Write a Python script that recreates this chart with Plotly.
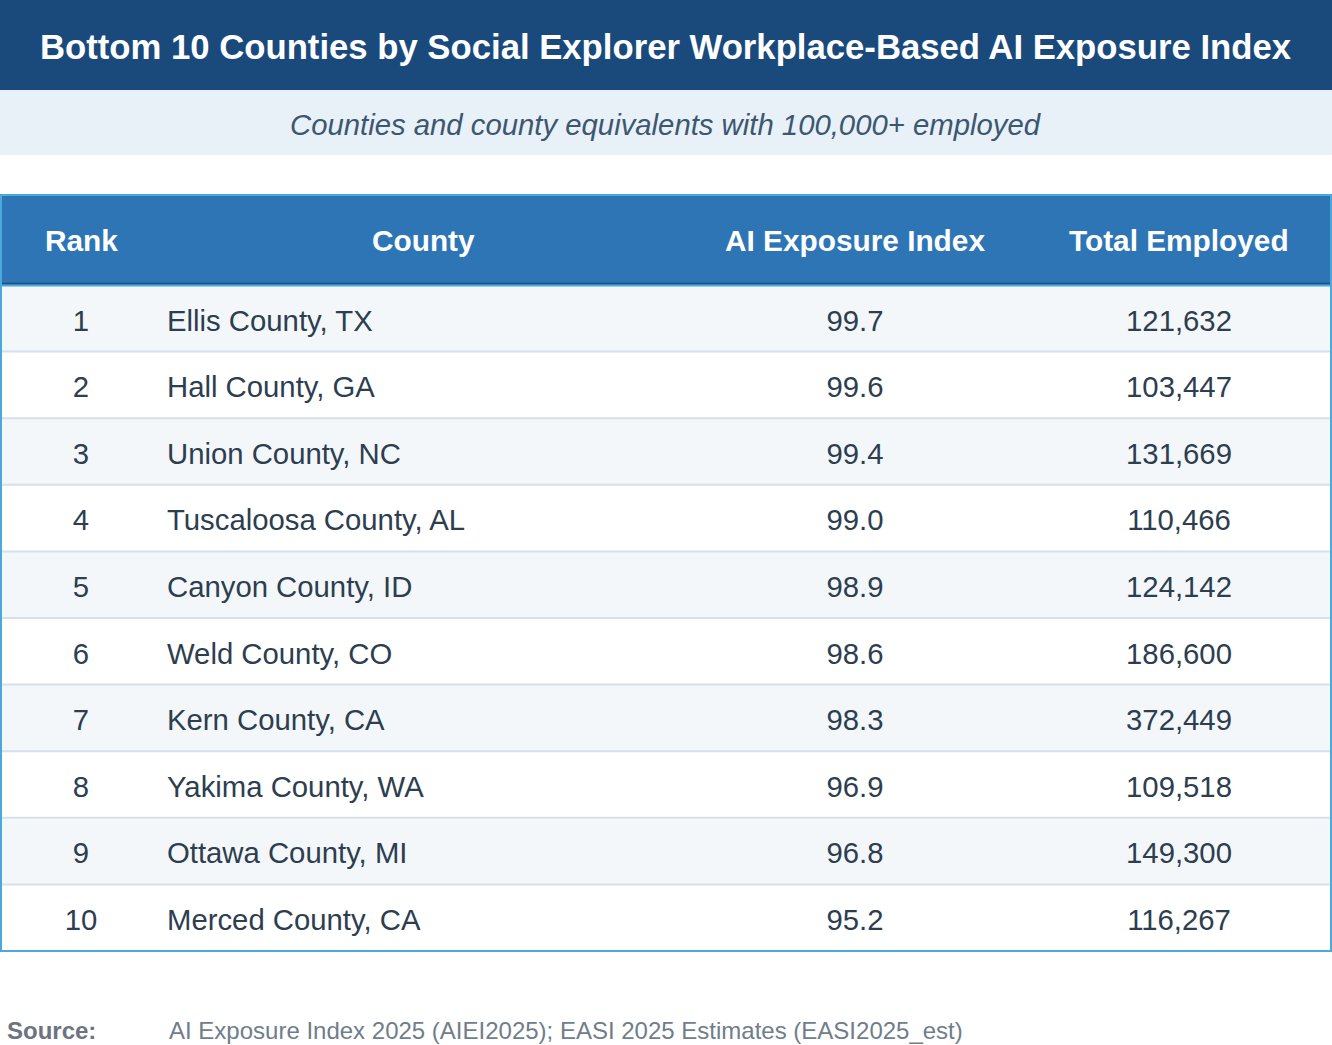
import plotly.graph_objects as go

# ---------------- data ----------------
ranks = [1, 2, 3, 4, 5, 6, 7, 8, 9, 10]
counties = [
    "Ellis County, TX", "Hall County, GA", "Union County, NC", "Tuscaloosa County, AL",
    "Canyon County, ID", "Weld County, CO", "Kern County, CA", "Yakima County, WA",
    "Ottawa County, MI", "Merced County, CA",
]
ai_index = [99.7, 99.6, 99.4, 99.0, 98.9, 98.6, 98.3, 96.9, 96.8, 95.2]
employed = [121632, 103447, 131669, 110466, 124142, 186600, 372449, 109518, 149300, 116267]
headers = ["Rank", "County", "AI Exposure Index", "Total Employed"]

title_text = "Bottom 10 Counties by Social Explorer Workplace-Based AI Exposure Index"
subtitle_text = "Counties and county equivalents with 100,000+ employed"
source_label = "Source:"
source_text = "AI Exposure Index 2025 (AIEI2025); EASI 2025 Estimates (EASI2025_est)"

# ---------------- layout constants ----------------
W, H = 1332, 1045
FONT = "Liberation Sans, Arial, Helvetica, sans-serif"
TITLE_BG = "#1a4a7c"
SUB_BG = "#e8f0f8"
HEAD_BG = "#2e75b6"
ODD_BG = "#f4f7fa"
EVEN_BG = "#ffffff"
SEP = "#d6e0e9"
BORDER = "#4aa8da"
TXT = "#2c3e50"
CELL_SIZE = 29.3
TEXT_DROP = 5          # px: cell text sits slightly below the geometric row centre

TITLE_BAND = (0, 90)
SUB_BAND = (90, 155)
HEAD_BAND = (195, 285)
BODY = (285, 951)
COL_X = [81, 167, 855, 1179]      # rank centre, county left edge, index centre, employed centre
HEAD_X = [81, 423, 855, 1179]


def py(p):
    """pixel-from-top -> paper y"""
    return 1 - p / H


fig = go.Figure()

# text columns drawn on the axes (rows on the y axis by rank)
cell_font = dict(family=FONT, size=CELL_SIZE, color=TXT)
columns = [
    (COL_X[0], [str(r) for r in ranks], "middle center"),
    (COL_X[1], counties, "middle right"),
    (COL_X[2], [f"{v:.1f}" for v in ai_index], "middle center"),
    (COL_X[3], [f"{v:,}" for v in employed], "middle center"),
]
for cx, txt, pos in columns:
    fig.add_trace(go.Scatter(x=[cx] * len(ranks), y=ranks, text=txt, mode="text",
                             textposition=pos, textfont=cell_font, hoverinfo="skip",
                             yaxis="y2", cliponaxis=False))

shapes = []
# title / subtitle bands
shapes.append(dict(type="rect", xref="paper", yref="paper", x0=0, x1=1,
                   y0=py(TITLE_BAND[1]), y1=py(TITLE_BAND[0]), fillcolor=TITLE_BG, line_width=0, layer="below"))
shapes.append(dict(type="rect", xref="paper", yref="paper", x0=0, x1=1,
                   y0=py(SUB_BAND[1]), y1=py(SUB_BAND[0]), fillcolor=SUB_BG, line_width=0, layer="below"))
# header band
shapes.append(dict(type="rect", xref="paper", yref="paper", x0=0, x1=1,
                   y0=py(HEAD_BAND[1]), y1=py(HEAD_BAND[0]), fillcolor=HEAD_BG, line_width=0, layer="below"))
# row backgrounds & separators
for r in ranks:
    shapes.append(dict(type="rect", xref="paper", yref="y", x0=0, x1=1, y0=r - 0.5, y1=r + 0.5,
                       fillcolor=ODD_BG if r % 2 == 1 else EVEN_BG, line_width=0, layer="below"))
for r in ranks[:-1]:
    shapes.append(dict(type="line", xref="paper", yref="y", x0=0, x1=1, y0=r + 0.5, y1=r + 0.5,
                       line=dict(color=SEP, width=2), layer="below"))
# header bottom lines
shapes.append(dict(type="line", xref="paper", yref="paper", x0=0, x1=1, y0=py(283.5), y1=py(283.5),
                   line=dict(color="#1f4e79", width=1.5)))
shapes.append(dict(type="line", xref="paper", yref="paper", x0=0, x1=1, y0=py(285.5), y1=py(285.5),
                   line=dict(color=BORDER, width=2)))
# outer table border
shapes.append(dict(type="rect", xref="x", yref="paper", x0=1, x1=W - 1,
                   y0=py(951), y1=py(195), line=dict(color=BORDER, width=2), fillcolor="rgba(0,0,0,0)"))

annotations = [
    dict(text=f"<b>{title_text}</b>", x=0.5, y=py(47), xref="paper", yref="paper",
         showarrow=False, xanchor="center", yanchor="middle",
         font=dict(family=FONT, size=34.7, color="#ffffff")),
    dict(text=f"<i>{subtitle_text}</i>", x=0.5, y=py(125), xref="paper", yref="paper",
         showarrow=False, xanchor="center", yanchor="middle",
         font=dict(family=FONT, size=29.3, color="#3d5770")),
    dict(text=f"<b>{source_label}</b>", x=5, y=py(1030), xref="x", yref="paper",
         showarrow=False, xanchor="left", yanchor="middle",
         font=dict(family=FONT, size=24, color="#6b7480")),
    dict(text=source_text, x=167, y=py(1030), xref="x", yref="paper",
         showarrow=False, xanchor="left", yanchor="middle",
         font=dict(family=FONT, size=24, color="#707d8a")),
]
for hx, ht in zip(HEAD_X, headers):
    annotations.append(dict(text=f"<b>{ht}</b>", x=hx, y=py(241), xref="x", yref="paper",
                            showarrow=False, xanchor="center", yanchor="middle",
                            font=dict(family=FONT, size=29.8, color="#ffffff")))

yrange = [len(ranks) + 0.5, 0.5]
fig.update_layout(
    width=W, height=H,
    margin=dict(l=0, r=0, t=0, b=0),
    paper_bgcolor="#ffffff", plot_bgcolor="rgba(0,0,0,0)",
    showlegend=False,
    xaxis=dict(range=[0, W], visible=False, fixedrange=True, domain=[0, 1]),
    yaxis=dict(range=yrange, visible=False, fixedrange=True,
               domain=[py(BODY[1]), py(BODY[0])]),
    yaxis2=dict(range=yrange, visible=False, fixedrange=True, anchor="x",
                domain=[py(BODY[1] + TEXT_DROP), py(BODY[0] + TEXT_DROP)]),
    shapes=shapes,
    annotations=annotations,
)

fig.write_html("out.html", config={"displayModeBar": False},
               post_script="document.body.style.margin='0';document.body.style.overflow='hidden';")
